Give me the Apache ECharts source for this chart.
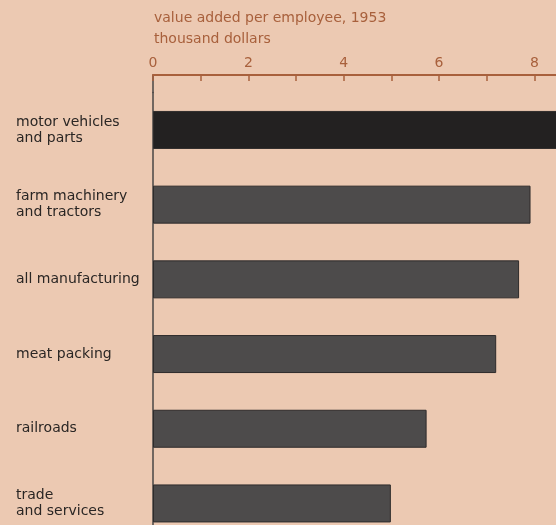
<!DOCTYPE html>
<html>
<head>
<meta charset="utf-8">
<script src="https://cdn.jsdelivr.net/npm/echarts@6/dist/echarts.min.js"></script>
<style>
  html, body { margin: 0; padding: 0; background: #ecc9b2; }
  #chart { width: 556px; height: 525px; }
</style>
</head>
<body>
<div id="chart"></div>
<script>
const industries = [
  "motor vehicles\nand parts",
  "farm machinery\nand tractors",
  "all manufacturing",
  "meat packing",
  "railroads",
  "trade\nand services",
];
const valueAdded = [8.8, 7.92, 7.68, 7.2, 5.74, 4.99];
const xTickLabels = ["0", "", "2", "", "4", "", "6", "", "8", ""];

const brown = "#a8603c";
const axisGray = "#4a4644";
const chart = echarts.init(document.getElementById("chart"));

chart.setOption({
  backgroundColor: "#ecc9b2",
  animation: false,
  title: {
    text: "value added per employee, 1953",
    subtext: "thousand dollars",
    left: 149,
    top: 6,
    itemGap: 7,
    textStyle: { color: brown, fontSize: 14, fontWeight: "normal", fontFamily: "DejaVu Sans" },
    subtextStyle: { color: brown, fontSize: 14, fontFamily: "DejaVu Sans" },
  },
  grid: [
    // bars (runs past the right and bottom edges, as in the cropped original)
    { left: 153, top: 92.6, width: 429, height: 448.2, outerBoundsMode: "none", containLabel: false },
    // short stretch of the vertical axis above the first bar band
    { left: 153, top: 75, width: 429, height: 17.6, outerBoundsMode: "none", containLabel: false },
  ],
  xAxis: [
    {
      type: "value",
      gridIndex: 0,
      position: "top",
      offset: 17.6,
      min: 0,
      max: 9,
      interval: 1,
      splitLine: { show: false },
      axisLine: { show: true, lineStyle: { color: brown, width: 2 } },
      axisTick: { show: true, inside: true, length: 6, lineStyle: { color: brown, width: 1.5 } },
      axisLabel: {
        color: brown,
        fontSize: 14,
        fontFamily: "DejaVu Sans",
        margin: 5,
        formatter: (v) => xTickLabels[Math.round(v)] || "",
      },
    },
    { type: "value", gridIndex: 1, min: 0, max: 9, show: false },
  ],
  yAxis: [
    {
      type: "category",
      gridIndex: 0,
      inverse: true,
      data: industries,
      axisLine: { show: true, lineStyle: { color: axisGray, width: 1.5 } },
      axisTick: { show: false },
      axisLabel: {
        color: "#2a2624",
        fontSize: 14,
        lineHeight: 16,
        fontFamily: "DejaVu Sans",
        align: "left",
        margin: 137,
      },
    },
    {
      type: "value",
      gridIndex: 1,
      axisLine: { show: true, lineStyle: { color: axisGray, width: 1.5 } },
      axisTick: { show: false },
      axisLabel: { show: false },
      splitLine: { show: false },
    },
  ],
  series: [
    {
      type: "bar",
      xAxisIndex: 0,
      yAxisIndex: 0,
      barWidth: 38,
      data: valueAdded.map((v, i) => ({
        value: v,
        itemStyle: {
          color: i === 0 ? "#232121" : "#4d4b4b",
          borderColor: "#2e2b2b",
          borderWidth: 1,
        },
      })),
    },
  ],
});
</script>
</body>
</html>
